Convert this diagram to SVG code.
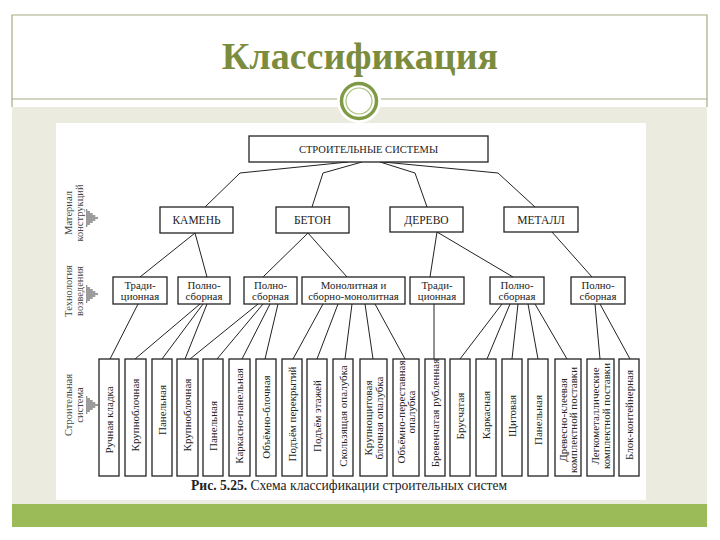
<svg xmlns="http://www.w3.org/2000/svg" width="720" height="540" viewBox="0 0 720 540">
<defs>
<style>
.frame{fill:none;stroke:#a8ab84;stroke-width:1.2}
.box{fill:#fff;stroke:#222;stroke-width:1.3}
.t{font-family:"Liberation Serif","Times New Roman",serif;fill:#222}
.c{text-anchor:middle}
.h{font-size:10.5px}
.l2{font-size:11.5px}
.l3{font-size:10.8px}
.v{font-size:11px;text-anchor:middle}
.lab{font-family:"Liberation Serif","Times New Roman",serif;fill:#444;font-size:10.5px;text-anchor:middle}
.conn line,.conn polyline{stroke:#222;stroke-width:1;fill:none}
.ar line{stroke:#666;stroke-width:1.3}
</style>
<g id="arr" class="ar">
<line x1="0" y1="-8" x2="1.3" y2="-8"/>
<line x1="0" y1="-6" x2="4" y2="-6"/>
<line x1="0" y1="-4" x2="6.7" y2="-4"/>
<line x1="0" y1="-2" x2="9.3" y2="-2"/>
<line x1="0" y1="0" x2="12" y2="0"/>
<line x1="0" y1="2" x2="9.3" y2="2"/>
<line x1="0" y1="4" x2="6.7" y2="4"/>
<line x1="0" y1="6" x2="4" y2="6"/>
<line x1="0" y1="8" x2="1.3" y2="8"/>
</g>
</defs>

<!-- slide background -->
<rect x="0" y="0" width="720" height="540" fill="#fff"/>
<path class="frame" d="M12,107 V15 H707 V107"/>
<line class="frame" x1="12" y1="99" x2="707" y2="99"/>
<rect x="12" y="107" width="695" height="397" fill="#ecebdf"/>
<rect x="12" y="504" width="695" height="23" fill="#9bbb59"/>
<text x="360" y="69" text-anchor="middle" font-family="Liberation Serif,Times New Roman,serif" font-weight="bold" font-size="38" fill="#7b8c3e">Классификация</text>
<circle cx="359" cy="101" r="22" fill="#fff"/>
<circle cx="359" cy="101" r="17.5" fill="none" stroke="#7f9a45" stroke-width="3.5"/>
<circle cx="359" cy="101" r="13" fill="none" stroke="#a8bf78" stroke-width="1.2"/>

<!-- figure area -->
<rect x="56" y="123" width="590" height="377" fill="#fff"/>

<!-- side labels -->
<g id="lab-material">
<text class="lab" transform="translate(0,213) rotate(-90)"><tspan x="0" y="71.5">Материал</tspan><tspan x="0" y="82.5">конструкций</tspan></text>
<use href="#arr" x="86" y="218"/>
</g>
<g id="lab-tech">
<text class="lab" transform="translate(0,291) rotate(-90)"><tspan x="0" y="71.5">Технология</tspan><tspan x="0" y="82.5">возведения</tspan></text>
<use href="#arr" x="86" y="294"/>
</g>
<g id="lab-system">
<text class="lab" transform="translate(0,405) rotate(-90)"><tspan x="0" y="71.5">Строительная</tspan><tspan x="0" y="82.5">система</tspan></text>
<use href="#arr" x="86" y="405"/>
</g>

<!-- connectors -->
<g class="conn" id="connectors">
<polyline points="348,162 240,173 205,207"/>
<polyline points="362,162 323,173 312,207"/>
<polyline points="380,162 415,173 427,207"/>
<polyline points="383,162 498,173 535,207"/>
<line x1="195" y1="233" x2="140" y2="277"/>
<line x1="195" y1="233" x2="207" y2="277"/>
<line x1="308" y1="233" x2="263" y2="277"/>
<line x1="308" y1="233" x2="347" y2="277"/>
<line x1="437" y1="232" x2="430" y2="277"/>
<line x1="437" y1="232" x2="513" y2="277"/>
<line x1="552" y1="232" x2="592" y2="277"/>
<line x1="138" y1="304" x2="110" y2="359"/>
<line x1="200" y1="304" x2="135" y2="359"/>
<line x1="203" y1="304" x2="162" y2="359"/>
<line x1="207" y1="304" x2="185" y2="359"/>
<line x1="258" y1="304" x2="190" y2="359"/>
<line x1="263" y1="304" x2="217" y2="359"/>
<line x1="270" y1="304" x2="242" y2="359"/>
<line x1="278" y1="304" x2="265" y2="359"/>
<line x1="323" y1="304" x2="293" y2="359"/>
<line x1="338" y1="304" x2="317" y2="359"/>
<line x1="352" y1="304" x2="345" y2="359"/>
<line x1="365" y1="304" x2="373" y2="359"/>
<line x1="375" y1="304" x2="405" y2="359"/>
<line x1="434" y1="304" x2="434" y2="359"/>
<line x1="502" y1="304" x2="460" y2="359"/>
<line x1="510" y1="304" x2="487" y2="359"/>
<line x1="518" y1="304" x2="512" y2="359"/>
<line x1="528" y1="304" x2="538" y2="359"/>
<line x1="535" y1="304" x2="567" y2="359"/>
<line x1="595" y1="304" x2="600" y2="359"/>
<line x1="600" y1="304" x2="630" y2="359"/>
</g>

<!-- top -->
<g id="root"><rect class="box" x="249" y="136" width="239" height="26"/><text class="t c h" x="368.5" y="153">СТРОИТЕЛЬНЫЕ СИСТЕМЫ</text></g>

<!-- level 2 -->
<g id="kamen"><rect class="box" x="160" y="207" width="73" height="26"/><text class="t c l2" x="196.5" y="224">КАМЕНЬ</text></g>
<g id="beton"><rect class="box" x="276" y="207" width="73" height="26"/><text class="t c l2" x="312.5" y="224">БЕТОН</text></g>
<g id="derevo"><rect class="box" x="390" y="207" width="73" height="25"/><text class="t c l2" x="426.5" y="224">ДЕРЕВО</text></g>
<g id="metall"><rect class="box" x="504" y="207" width="74" height="25"/><text class="t c l2" x="541" y="224">МЕТАЛЛ</text></g>

<!-- level 3 -->
<g id="kamen-trad"><rect class="box" x="113" y="277" width="54" height="27"/><text class="t c l3"><tspan x="140" y="288.5">Тради-</tspan><tspan x="140" y="300">ционная</tspan></text></g>
<g id="kamen-poln"><rect class="box" x="178" y="277" width="52" height="27"/><text class="t c l3"><tspan x="204" y="288.5">Полно-</tspan><tspan x="204" y="300">сборная</tspan></text></g>
<g id="beton-poln"><rect class="box" x="244" y="277" width="53" height="27"/><text class="t c l3"><tspan x="270.5" y="288.5">Полно-</tspan><tspan x="270.5" y="300">сборная</tspan></text></g>
<g id="beton-mono"><rect class="box" x="302" y="277" width="103" height="27"/><text class="t c l3"><tspan x="353.5" y="288.5">Монолитная и</tspan><tspan x="353.5" y="300">сборно-монолитная</tspan></text></g>
<g id="derevo-trad"><rect class="box" x="410" y="277" width="54" height="27"/><text class="t c l3"><tspan x="437" y="288.5">Тради-</tspan><tspan x="437" y="300">ционная</tspan></text></g>
<g id="derevo-poln"><rect class="box" x="490" y="277" width="54" height="27"/><text class="t c l3"><tspan x="517" y="288.5">Полно-</tspan><tspan x="517" y="300">сборная</tspan></text></g>
<g id="metall-poln"><rect class="box" x="571" y="277" width="54" height="27"/><text class="t c l3"><tspan x="598" y="288.5">Полно-</tspan><tspan x="598" y="300">сборная</tspan></text></g>

<!-- level 4 -->
<g id="b1"><rect class="box" x="99" y="359" width="20" height="117"/><text class="t v" transform="translate(0,420) rotate(-90)" x="0" y="112.8">Ручная кладка</text></g>
<g id="b2"><rect class="box" x="125" y="359" width="21" height="117"/><text class="t v" transform="translate(0,415) rotate(-90)" x="0" y="139.3">Крупноблочная</text></g>
<g id="b3"><rect class="box" x="152" y="359" width="20" height="117"/><text class="t v" transform="translate(0,410) rotate(-90)" x="0" y="165.8">Панельная</text></g>
<g id="b4"><rect class="box" x="177" y="359" width="21" height="117"/><text class="t v" transform="translate(0,415) rotate(-90)" x="0" y="191.3">Крупноблочная</text></g>
<g id="b5"><rect class="box" x="203" y="359" width="20" height="117"/><text class="t v" transform="translate(0,426) rotate(-90)" x="0" y="216.8">Панельная</text></g>
<g id="b6"><rect class="box" x="229" y="359" width="21" height="117"/><text class="t v" transform="translate(0,416) rotate(-90)" x="0" y="243.3">Каркасно-панельная</text></g>
<g id="b7"><rect class="box" x="256" y="359" width="20" height="117"/><text class="t v" transform="translate(0,417) rotate(-90)" x="0" y="269.8">Объёмно-блочная</text></g>
<g id="b8"><rect class="box" x="282" y="359" width="20" height="117"/><text class="t v" transform="translate(0,414) rotate(-90)" x="0" y="295.8">Подъём перекрытий</text></g>
<g id="b9"><rect class="box" x="307" y="359" width="20" height="117"/><text class="t v" transform="translate(0,416) rotate(-90)" x="0" y="320.8">Подъём этажей</text></g>
<g id="b10"><rect class="box" x="333" y="359" width="20" height="117"/><text class="t v" transform="translate(0,416) rotate(-90)" x="0" y="346.8">Скользящая опалубка</text></g>
<g id="b11"><rect class="box" x="360" y="359" width="27" height="117"/><text class="t v" transform="translate(0,418) rotate(-90)"><tspan x="0" y="372.2">Крупнощитовая</tspan><tspan x="0" y="382.9">блочная опалубка</tspan></text></g>
<g id="b12"><rect class="box" x="393" y="359" width="26" height="117"/><text class="t v" transform="translate(0,412) rotate(-90)"><tspan x="0" y="404.7">Объёмно-переставная</tspan><tspan x="0" y="415.4">опалубка</tspan></text></g>
<g id="b13"><rect class="box" x="425" y="359" width="20" height="117"/><text class="t v" transform="translate(0,413) rotate(-90)" x="0" y="438.8">Бревенчатая рубленная</text></g>
<g id="b14"><rect class="box" x="450" y="359" width="20" height="117"/><text class="t v" transform="translate(0,416) rotate(-90)" x="0" y="463.8">Брусчатая</text></g>
<g id="b15"><rect class="box" x="476" y="359" width="20" height="117"/><text class="t v" transform="translate(0,415) rotate(-90)" x="0" y="489.8">Каркасная</text></g>
<g id="b16"><rect class="box" x="502" y="359" width="20" height="117"/><text class="t v" transform="translate(0,416) rotate(-90)" x="0" y="515.8">Щитовая</text></g>
<g id="b17"><rect class="box" x="528" y="359" width="20" height="117"/><text class="t v" transform="translate(0,420) rotate(-90)" x="0" y="541.8">Панельная</text></g>
<g id="b18"><rect class="box" x="555" y="359" width="26" height="117"/><text class="t v" transform="translate(0,420) rotate(-90)"><tspan x="0" y="566.7">Древесно-клеевая</tspan><tspan x="0" y="577.4">комплектной поставки</tspan></text></g>
<g id="b19"><rect class="box" x="587" y="359" width="27" height="117"/><text class="t v" transform="translate(0,416) rotate(-90)"><tspan x="0" y="599.2">Легкометаллические</tspan><tspan x="0" y="609.9">комплектной поставки</tspan></text></g>
<g id="b20"><rect class="box" x="619" y="359" width="20" height="117"/><text class="t v" transform="translate(0,415) rotate(-90)" x="0" y="632.8">Блок-контейнерная</text></g>

<!-- caption -->
<text class="t" x="191" y="490" font-size="13.6"><tspan font-weight="bold">Рис. 5.25.</tspan> Схема классификации строительных систем</text>
</svg>
